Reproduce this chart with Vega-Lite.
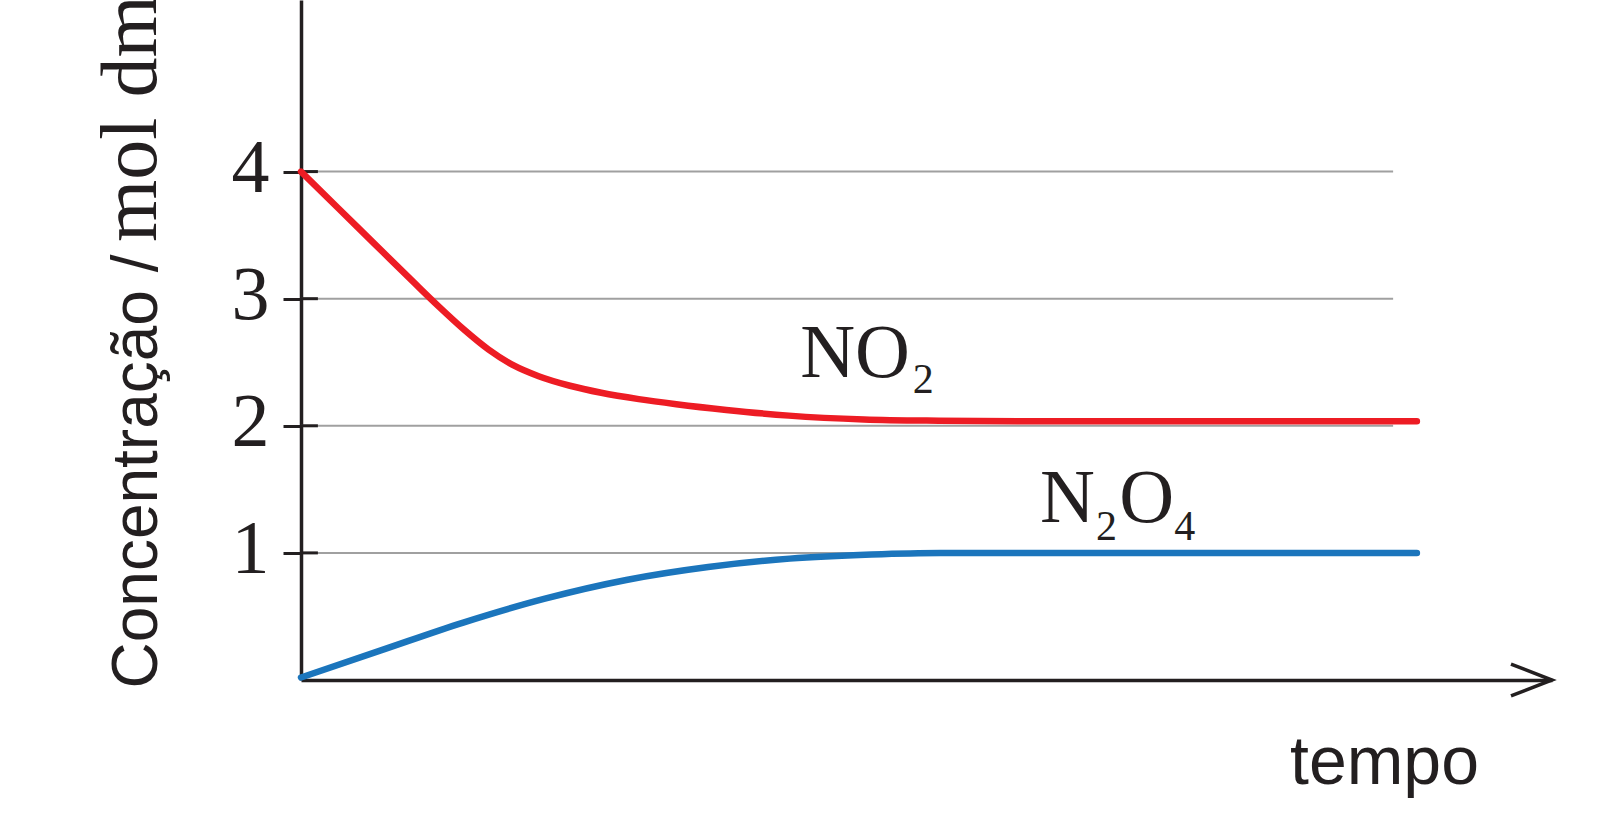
{
  "$schema": "https://vega.github.io/schema/vega-lite/v6.json",
  "autosize": {"type": "none"},
  "padding": {"left": 301, "top": 0, "right": 58, "bottom": 160},
  "width": 1251,
  "height": 680,
  "background": "white",
  "datasets": {
    "curves": [
      {"s": "NO2", "t": 0, "c": 4.0},
      {"s": "NO2", "t": 3, "c": 3.71},
      {"s": "NO2", "t": 6, "c": 3.42},
      {"s": "NO2", "t": 9, "c": 3.13},
      {"s": "NO2", "t": 11, "c": 2.94},
      {"s": "NO2", "t": 13, "c": 2.76},
      {"s": "NO2", "t": 15, "c": 2.6},
      {"s": "NO2", "t": 17, "c": 2.475},
      {"s": "NO2", "t": 19, "c": 2.39},
      {"s": "NO2", "t": 21.5, "c": 2.315},
      {"s": "NO2", "t": 24, "c": 2.26},
      {"s": "NO2", "t": 27, "c": 2.21},
      {"s": "NO2", "t": 30, "c": 2.17},
      {"s": "NO2", "t": 34, "c": 2.125},
      {"s": "NO2", "t": 39, "c": 2.08},
      {"s": "NO2", "t": 45, "c": 2.05},
      {"s": "NO2", "t": 51, "c": 2.04},
      {"s": "NO2", "t": 60, "c": 2.035},
      {"s": "NO2", "t": 89.2, "c": 2.035},
      {"s": "N2O4", "t": 0, "c": 0.02},
      {"s": "N2O4", "t": 6.44, "c": 0.235},
      {"s": "N2O4", "t": 12.97, "c": 0.452},
      {"s": "N2O4", "t": 19.5, "c": 0.64},
      {"s": "N2O4", "t": 26.0, "c": 0.787},
      {"s": "N2O4", "t": 32.55, "c": 0.889},
      {"s": "N2O4", "t": 39.07, "c": 0.955},
      {"s": "N2O4", "t": 45.6, "c": 0.988},
      {"s": "N2O4", "t": 51.1, "c": 1.0},
      {"s": "N2O4", "t": 89.2, "c": 1.0}
    ],
    "levels": [{"c": 1}, {"c": 2}, {"c": 3}, {"c": 4}],
    "names": [
      {"label": "NO", "t": 39.9, "c": 2.384},
      {"label": "N", "t": 59.07, "c": 1.245},
      {"label": "O", "t": 65.4, "c": 1.245}
    ],
    "subs": [
      {"label": "2", "t": 48.9, "c": 2.258},
      {"label": "2", "t": 63.55, "c": 1.1},
      {"label": "4", "t": 69.8, "c": 1.1}
    ]
  },
  "layer": [
    {
      "data": {"name": "levels"},
      "mark": {"type": "rule", "color": "#a0a0a0", "strokeWidth": 2},
      "encoding": {
        "y": {"field": "c", "type": "quantitative", "scale": {"domain": [0, 5.35], "nice": false},
          "axis": {
            "values": [1, 2, 3, 4],
            "format": "d",
            "grid": false,
            "domainColor": "#231f20",
            "domainWidth": 3.5,
            "tickColor": "#231f20",
            "tickWidth": 3,
            "tickSize": 18,
            "labelFont": "Liberation Serif",
            "labelFontSize": 76,
            "labelColor": "#231f20",
            "labelPadding": 14,
            "labelBaseline": "middle",
            "labelOffset": -3,
            "title": "Concentração /",
            "titleFont": "Liberation Sans",
            "titleFontSize": 64,
            "titleFontWeight": "normal",
            "titleColor": "#231f20",
            "titleAngle": 270,
            "titleAlign": "left",
            "titleBaseline": "alphabetic",
            "titleX": -145,
            "titleY": 688
          }
        },
        "x": {"datum": 0, "type": "quantitative", "scale": {"domain": [0, 100], "nice": false},
          "axis": {
            "labels": false,
            "ticks": false,
            "grid": false,
            "domainColor": "#231f20",
            "domainWidth": 3.5,
            "title": "tempo",
            "titleFont": "Liberation Sans",
            "titleFontSize": 68,
            "titleFontWeight": "normal",
            "titleColor": "#231f20",
            "titleAlign": "center",
            "titleBaseline": "alphabetic",
            "titleX": 1083,
            "titleY": 103
          }
        },
        "x2": {"datum": 87.3}
      }
    },
    {
      "data": {"name": "levels"},
      "mark": {"type": "rule", "color": "#231f20", "strokeWidth": 3},
      "encoding": {
        "y": {"field": "c", "type": "quantitative"},
        "x": {"datum": 0, "type": "quantitative"},
        "x2": {"datum": 1.35}
      }
    },
    {
      "data": {"name": "curves"},
      "mark": {"type": "line", "strokeWidth": 6.5, "strokeCap": "round", "strokeJoin": "round", "interpolate": "monotone"},
      "encoding": {
        "x": {"field": "t", "type": "quantitative"},
        "y": {"field": "c", "type": "quantitative"},
        "color": {"field": "s", "type": "nominal",
          "scale": {"domain": ["NO2", "N2O4"], "range": ["#ed1c24", "#1b75bc"]},
          "legend": null}
      }
    },
    {
      "data": {"name": "names"},
      "mark": {"type": "text", "font": "Liberation Serif", "fontSize": 76, "color": "#231f20", "align": "left", "baseline": "alphabetic"},
      "encoding": {
        "x": {"field": "t", "type": "quantitative"},
        "y": {"field": "c", "type": "quantitative"},
        "text": {"field": "label"}
      }
    },
    {
      "data": {"name": "subs"},
      "mark": {"type": "text", "font": "Liberation Serif", "fontSize": 42, "color": "#231f20", "align": "left", "baseline": "alphabetic"},
      "encoding": {
        "x": {"field": "t", "type": "quantitative"},
        "y": {"field": "c", "type": "quantitative"},
        "text": {"field": "label"}
      }
    },
    {
      "data": {"values": [{"label": "mol dm⁻³"}]},
      "mark": {"type": "text", "font": "Liberation Serif", "fontSize": 80, "color": "#231f20", "align": "left", "baseline": "alphabetic", "angle": 270},
      "encoding": {
        "x": {"datum": -11.6, "type": "quantitative"},
        "y": {"datum": 3.446, "type": "quantitative"},
        "text": {"field": "label"}
      }
    },
    {
      "data": {"values": [{"label": "arrow"}]},
      "mark": {"type": "point", "shape": "M -1 -0.78 L 1 0 L -1 0.78", "filled": false, "stroke": "#231f20", "strokeWidth": 3.5, "size": 1681, "opacity": 1},
      "encoding": {
        "x": {"datum": 98.36, "type": "quantitative"},
        "y": {"datum": 0, "type": "quantitative"}
      }
    }
  ],
  "config": {
    "view": {"stroke": null}
  }
}
